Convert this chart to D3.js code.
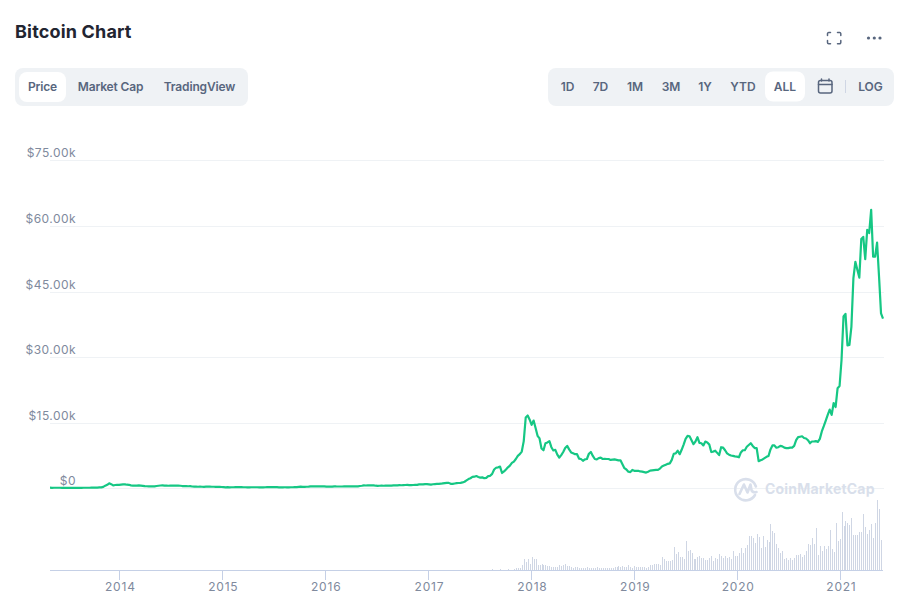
<!DOCTYPE html>
<html>
<head>
<meta charset="utf-8">
<title>Bitcoin Chart</title>
<script src="https://cdn.jsdelivr.net/npm/d3@7/dist/d3.min.js"></script>
<style>
html,body{margin:0;padding:0;background:#fff;}
svg{display:block;font-family:Inter,"Noto Sans",sans-serif;}
</style>
</head>
<body>
<svg id="chart" width="903" height="613"></svg>
<script>
// ---- data ----
const titleText = "Bitcoin Chart";
const leftTabs = ["Price", "Market Cap", "TradingView"];
const rangeTabs = ["1D", "7D", "1M", "3M", "1Y", "YTD", "ALL"];
const logTab = "LOG";
const watermark = "CoinMarketCap";
const firstWeek = "2013-04-30";
const yearTicks = [2014, 2015, 2016, 2017, 2018, 2019, 2020, 2021];
const priceTicks = [0, 15000, 30000, 45000, 60000, 75000];
const priceTickLabels = ["$0", "$15.00k", "$30.00k", "$45.00k", "$60.00k", "$75.00k"];

// weekly price in USD
const price2013 = [135,115,120,130,125,120,105,100,100,90,75,85,95,95,105,105,115,125,125,125,130,135,140,145,170,200,220,330,600,800,1150,950,650,750,800];
const price2014 = [800,850,900,900,820,800,680,600,620,620,650,620,570,480,470,450,440,440,450,520,590,640,650,620,600,580,630,620,600,590,590,580,520,500,490,470,480,410,400,370,350,380,350,340,370,370,380,360,350,320,320,330];
const price2015 = [300,270,230,250,220,235,240,275,290,270,250,235,235,225,225,235,235,240,235,225,230,225,240,260,275,290,280,265,260,230,230,230,235,230,230,245,240,260,290,330,370,330,330,360,390,430,450,420,430,450,435,430];
const price2016 = [430,380,390,375,400,440,420,415,415,410,420,420,430,450,460,450,445,455,530,580,670,640,670,650,660,660,590,570,580,610,580,610,600,610,620,650,660,690,710,700,730,750,780,740,740,750,780,790,890,900,890,960];
const price2017 = [960,900,830,920,970,1000,1020,1050,1130,1200,1250,1240,1020,1000,1100,1180,1210,1240,1340,1500,1800,2100,2300,2600,2650,2800,2600,2450,2500,2300,2400,2800,2850,3300,4300,4700,4800,4950,3500,3850,4300,4800,5200,5800,6100,6700,7400,7800,8400,10800,16200,16650,15700];
const price2018 = [14500,15500,13800,12000,11400,9100,8700,10300,10500,10800,9400,8650,8800,7700,7000,7600,8300,9200,9700,8900,8200,8000,7800,7800,6800,6700,6300,6600,6700,7900,8300,7400,6700,6600,6900,7000,6700,6750,6700,6700,6500,6550,6600,6500,6400,6400,5500,4600,4300,3800,3700,4200,4000];
const price2019 = [4000,4000,3850,3800,3700,3600,3800,4050,4100,4150,4200,4200,4500,5000,5200,5400,5600,5700,6500,7900,8000,8600,7800,8800,10000,11300,12000,11900,11000,10100,10700,11700,10400,10300,9800,10700,10500,10000,8300,8400,8600,8100,7600,9400,9300,8700,8000,7700,7500,7400,7300,7250,7100];
const price2020 = [8200,8700,8700,9500,9900,10300,9700,9200,9200,6200,6400,6600,6900,7200,7400,8900,9800,9800,9300,9400,9700,9600,9300,9200,9200,9300,9300,9700,11000,11700,11800,11900,11500,11400,11000,10300,10700,10700,10800,10600,11300,13000,14200,15500,16800,18000,16800,19500,18600,22900,23400];
const price2021 = [29400,39300,39900,32700,32800,37000,48000,51800,50000,48200,57000,57500,52400,59100,58400,63700,53000,53000,56200,48400,40000,38800];

// weekly traded volume, relative units, from the first week where a bar is visible
const volumeFirstWeek = 224;
const volumes2017 = [1,0.3,0.3,0.3,1,0.3,0.3,0.3,1,0.5,0.5,1.5,2,2,2.5,5,11,8,11];
const volumes2018 = [6,13,11,11,5,5.5,6,5,5,4,4,3.5,3,3,3.5,5,4.5,5,6,4.5,4,3.5,2.5,3,3.3,2,2,2.5,2,3,2.5,2.5,2.5,2.5,3,2.5,2.5,2.5,2.5,2.5,2.5,2,2,3,3,4,3,4,3,3,5.5,3.5,2.5,4,3.5,3.5,3];
const volumes2019 = [3,3,2.5,3,5.5,5,6.5,6.5,6.5,5.5,13.5,11.5,9,9.5,9.5,10,23,16.5,18,13,13,11.5,29,19,20,17,11,11,13,14.5,12,12,10.5,10,12,14,9,12,11,16.5,14,12.5,14,12.5,13.5,11.5,19.5,14.5];
const volumes2020 = [14,17,22,17,22,25.5,34,34,32,27,36.5,33.5,22.5,34.5,23.5,30,28,46,39,37,26,22,17,19,11,12,10,12,10,12,15,15,16,13,15,19,26,25,32,26,42,15,24,19,24,21,24,40,21,18,47,29];
const volumes2021 = [31,58,44,49,47,45,52,35,35,35,38,38,56,43,36,40,46,32,47,70,61,30];

// ---- layout ----
const plotL = 50, plotR = 883, yZero = 488.3, yTop = 160.4, volBase = 570, volTop = 500;
const gridColor = "#eff2f5", tickText = "#808a9d", btnText = "#58667e", barColor = "#cfd6e4",
      axisColor = "#c5d0e6", lineColor = "#16c784", markColor = "#d9dfeb";

const weeklyPrice = [].concat(price2013, price2014, price2015, price2016, price2017, price2018, price2019, price2020, price2021);
const weeklyVolume = [].concat(volumes2017, volumes2018, volumes2019, volumes2020, volumes2021);
const start = d3.utcParse("%Y-%m-%d")(firstWeek);
const weekDate = i => d3.utcDay.offset(start, i * 7);

const x = d3.scaleUtc().domain([start, weekDate(weeklyPrice.length - 1)]).range([plotL, plotR]);
const y = d3.scaleLinear().domain([0, 75000]).range([yZero, yTop]);
const yVol = d3.scaleLinear().domain([0, 70]).range([volBase, volTop]);

const svg = d3.select("#chart");

// ---- header ----
svg.append("text").attr("x", 15).attr("y", 37.5).attr("fill", "#222531")
  .attr("font-size", 18).attr("font-weight", 700).attr("letter-spacing", 0.17).text(titleText);

const label = (g, cx, txt, spacing) => g.append("text").attr("x", cx).attr("y", 91)
  .attr("text-anchor", "middle").attr("font-size", 12).attr("font-weight", 600)
  .attr("letter-spacing", spacing).attr("fill", btnText).text(txt);

const header = svg.append("g");
header.append("rect").attr("x", 15).attr("y", 68).attr("width", 233).attr("height", 38).attr("rx", 8).attr("fill", gridColor);
header.append("rect").attr("x", 19).attr("y", 72).attr("width", 47).attr("height", 30).attr("rx", 8).attr("fill", "#fff");
[42.5, 110.5, 199.5].forEach((cx, i) => label(header, cx, leftTabs[i], -0.15));

header.append("rect").attr("x", 548).attr("y", 68).attr("width", 346).attr("height", 38).attr("rx", 8).attr("fill", gridColor);
header.append("rect").attr("x", 765).attr("y", 71.5).attr("width", 40).attr("height", 30).attr("rx", 8).attr("fill", "#fff");
[567.5, 600.5, 635, 671, 705, 743, 785].forEach((cx, i) => label(header, cx, rangeTabs[i], 0));
label(header, 870.5, logTab, 0);
header.append("line").attr("x1", 845.5).attr("x2", 845.5).attr("y1", 80).attr("y2", 93).attr("stroke", "#cfd6e4");

// calendar icon
const cal = header.append("g").attr("fill", "none").attr("stroke", btnText).attr("stroke-width", 1.5).attr("stroke-linecap", "round");
cal.append("rect").attr("x", 818.5).attr("y", 80.5).attr("width", 13.5).attr("height", 12.5).attr("rx", 2);
cal.append("path").attr("d", "M818.5 84.5H832M821.5 79V81M829 79V81");

// fullscreen + more icons
const ic = svg.append("g").attr("fill", "none").attr("stroke", btnText).attr("stroke-width", 1.5).attr("stroke-linecap", "round");
ic.append("path").attr("d", "M827.5 35.5V33.5A1.2 1.2 0 0 1 828.7 32.5H830.5M837.5 32.5H839.5A1.2 1.2 0 0 1 840.8 33.5V35.5M840.8 40.5V42.5A1.2 1.2 0 0 1 839.5 43.7H837.5M830.5 43.7H828.7A1.2 1.2 0 0 1 827.5 42.5V40.5");
[868.5, 874.3, 880].forEach(cx => svg.append("circle").attr("cx", cx).attr("cy", 38).attr("r", 1.6).attr("fill", btnText));

// ---- grid ----
svg.append("g").selectAll("line").data(priceTicks).join("line")
  .attr("x1", plotL).attr("x2", plotR + 1)
  .attr("y1", d => Math.round(y(d)) + 0.5).attr("y2", d => Math.round(y(d)) + 0.5)
  .attr("stroke", gridColor);

svg.append("g").selectAll("text").data(priceTicks).join("text")
  .attr("x", 76).attr("y", d => y(d) - 3)
  .attr("text-anchor", "end").attr("font-size", 12).attr("letter-spacing", 0.45)
  .attr("fill", tickText).text((d, i) => priceTickLabels[i]);

// ---- watermark ----
const wm = svg.append("g");
wm.append("path").attr("transform", "translate(745.5,488.5)").attr("fill", "none").attr("stroke", markColor)
  .attr("stroke-width", 2.6).attr("stroke-linecap", "round").attr("stroke-linejoin", "round")
  .attr("d", "M9.5 6.5A10.6 10.6 0 1 1 10.4 -2M-6 5.5L-1.6 -4L2 4L5 -4L6 1.5Q7 4.5 11 3.5");
wm.append("text").attr("x", 765).attr("y", 494).attr("font-size", 14).attr("font-weight", 700)
  .attr("letter-spacing", 0.2).attr("fill", markColor).text(watermark);

// ---- price line ----
svg.append("path").datum(weeklyPrice)
  .attr("fill", "none").attr("stroke", lineColor).attr("stroke-width", 2.2)
  .attr("stroke-linejoin", "round")
  .attr("d", d3.line().x((d, i) => x(weekDate(i))).y(d => y(d)));

// ---- volume bars ----
svg.append("g").attr("shape-rendering", "crispEdges").selectAll("rect").data(weeklyVolume).join("rect")
  .attr("x", (d, i) => Math.round(x(weekDate(volumeFirstWeek + i))))
  .attr("width", 1)
  .attr("y", d => yVol(d))
  .attr("height", d => volBase - yVol(d))
  .attr("fill", barColor);

// ---- time axis ----
const axis = svg.append("g").attr("shape-rendering", "crispEdges");
axis.append("line").attr("x1", plotL).attr("x2", plotR).attr("y1", volBase + 0.5).attr("y2", volBase + 0.5).attr("stroke", axisColor);
const yearDate = yr => new Date(Date.UTC(yr, 0, 1));
axis.selectAll("line.t").data(yearTicks).join("line").attr("class", "t")
  .attr("x1", d => Math.round(x(yearDate(d))) + 0.5).attr("x2", d => Math.round(x(yearDate(d))) + 0.5)
  .attr("y1", volBase).attr("y2", volBase + 9.5).attr("stroke", axisColor);
svg.append("g").selectAll("text").data(yearTicks).join("text")
  .attr("x", d => x(yearDate(d)) + 1).attr("y", 590.5)
  .attr("text-anchor", "middle").attr("font-size", 12).attr("letter-spacing", 0.8)
  .attr("fill", tickText).text(d => d);
</script>
</body>
</html>
